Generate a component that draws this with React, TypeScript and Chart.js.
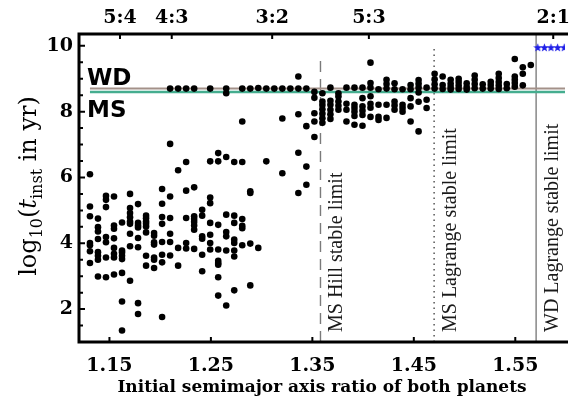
import React, { useEffect, useRef } from 'react';
import { Chart, registerables } from 'chart.js';
Chart.register(...registerables);

// Simulation grid: initial semimajor axis ratio of each column of runs
const columnX = [
  1.1308, 1.1387, 1.1466, 1.1545, 1.1624, 1.1703, 1.1782, 1.1861, 1.1940, 1.2019,
  1.2098, 1.2177, 1.2256, 1.2335, 1.2414, 1.2493, 1.2572, 1.2651, 1.2730, 1.2809,
  1.2888, 1.2967, 1.3046, 1.3125, 1.3204, 1.3283, 1.3362, 1.3441, 1.3520, 1.3599,
  1.3678, 1.3757, 1.3836, 1.3915, 1.3994, 1.4073, 1.4152, 1.4231, 1.4310, 1.4389,
  1.4468, 1.4547, 1.4626, 1.4705, 1.4784, 1.4863, 1.4942, 1.5021, 1.5100, 1.5179,
  1.5258, 1.5337, 1.5416, 1.5495, 1.5574, 1.5653,
];

// log10(t_inst) values of the runs in each column
const columnY: number[][] = [
  [6.10, 5.12, 4.82, 4.01, 3.94, 3.76, 3.40],
  [4.75, 4.49, 4.36, 4.13, 3.73, 3.62, 3.50, 2.99],
  [5.44, 5.32, 5.10, 4.19, 4.03, 3.57, 2.97],
  [5.42, 4.54, 4.44, 4.15, 3.86, 3.68, 3.57, 3.05],
  [4.63, 3.78, 3.72, 3.62, 3.52, 3.10, 2.23, 1.35],
  [5.50, 5.07, 4.92, 4.79, 4.66, 4.59, 4.29, 3.91, 2.86],
  [5.19, 4.62, 4.54, 4.48, 4.16, 3.88, 2.18, 1.85],
  [4.84, 4.76, 4.66, 4.59, 4.51, 4.33, 3.62, 3.32],
  [4.31, 4.23, 4.03, 3.96, 3.57, 3.50, 3.25],
  [5.65, 5.20, 4.80, 4.59, 4.04, 3.65, 3.42, 1.76],
  [8.70, 7.02, 5.42, 4.77, 4.29, 4.04, 3.63],
  [8.70, 6.22, 3.86, 3.32],
  [8.70, 6.47, 5.60, 4.77, 4.01, 3.84],
  [8.70, 5.70, 4.82, 4.74, 4.65, 4.54, 4.41, 3.83],
  [5.02, 4.84, 4.21, 4.14, 3.65, 3.15],
  [8.70, 6.49, 5.39, 5.22, 4.62, 4.26, 4.01, 3.81],
  [6.74, 6.49, 4.56, 3.81, 3.47, 3.40, 3.35, 2.97, 2.41],
  [8.70, 8.56, 6.62, 4.87, 4.34, 4.21, 3.78, 2.11],
  [6.47, 4.84, 4.62, 4.11, 4.01, 3.78, 3.60, 2.57],
  [8.70, 7.70, 6.47, 4.74, 4.53, 4.46, 3.94],
  [8.70, 5.58, 5.53, 3.99, 2.72],
  [8.72, 3.86],
  [8.70, 6.49],
  [8.70],
  [8.70, 7.79, 6.13],
  [8.70],
  [9.07, 8.70, 7.92, 6.75, 5.53],
  [8.70, 7.56, 6.33, 5.78],
  [8.60, 8.42, 7.95, 7.70, 7.23],
  [8.56, 8.31, 8.20, 8.07, 7.94, 7.80, 7.66],
  [8.73, 8.33, 8.21, 8.06, 7.92, 7.78],
  [8.56, 8.46, 8.31, 8.18, 8.06],
  [8.73, 8.24, 8.06, 7.70],
  [8.73, 8.21, 8.11, 8.00, 7.87, 7.60],
  [8.73, 8.41, 8.16, 8.03, 7.90, 7.57],
  [9.49, 8.87, 8.73, 8.47, 8.24, 8.12, 7.84],
  [8.68, 8.21, 7.84, 7.75],
  [8.97, 8.84, 8.70, 8.21, 7.81],
  [8.86, 8.68, 8.31, 8.19, 8.06],
  [8.68, 8.21, 8.11, 8.00],
  [8.81, 8.68, 8.41, 8.16, 7.70],
  [8.96, 8.85, 8.73, 8.58, 8.30, 7.40],
  [8.73, 8.36, 8.11],
  [9.15, 8.98, 8.83, 8.70],
  [9.07, 8.81, 8.69],
  [8.97, 8.85, 8.75, 8.67],
  [9.00, 8.90, 8.79, 8.69],
  [8.86, 8.75, 8.67],
  [9.10, 8.97, 8.84, 8.71],
  [8.83, 8.70],
  [8.91, 8.81, 8.70],
  [9.15, 9.02, 8.90, 8.79, 8.69],
  [8.84, 8.71],
  [9.60, 9.07, 8.97, 8.87, 8.76],
  [9.35, 9.15, 8.80],
  [9.42],
];

// stable runs (blue stars)
const starX = [1.5722, 1.5787, 1.5852, 1.5917, 1.5982];
const starY = [9.95, 9.95, 9.95, 9.95, 9.95];

const xTicks = [1.15, 1.25, 1.35, 1.45, 1.55];
const yMajorTicks = [2, 4, 6, 8, 10];
const yMinorTicks = [1, 1.5, 2.5, 3, 3.5, 4.5, 5, 5.5, 6.5, 7, 7.5, 8.5, 9, 9.5, 10];
const resonanceLabels = ['5:4', '4:3', '3:2', '5:3', '2:1'];
const resonanceX = [1.1604, 1.2114, 1.3104, 1.4057, 1.5874];

const wdLevel = 8.70;
const msLevel = 8.60;
const levelStartX = 1.1308;

const limitLabels = ['MS Hill stable limit', 'MS Lagrange stable limit', 'WD Lagrange stable limit'];
const limitX = [1.358, 1.470, 1.5705];
const limitTop = [9.6, 10.0, 10.4];

const X_MIN = 1.12;
const X_MAX = 1.599;
const Y_MIN = 1;
const Y_MAX = 10.36;

const SERIF = '"DejaVu Serif", serif';

function makeStar(): HTMLCanvasElement {
  const c = document.createElement('canvas');
  c.width = 9;
  c.height = 9;
  const g = c.getContext('2d')!;
  g.fillStyle = '#1f1fe8';
  g.beginPath();
  const cx = 4.5, cy = 4.8, R = 4.5, r = 1.9;
  for (let i = 0; i < 10; i++) {
    const ang = -Math.PI / 2 + (i * Math.PI) / 5;
    const rad = i % 2 === 0 ? R : r;
    const px = cx + rad * Math.cos(ang);
    const py = cy + rad * Math.sin(ang);
    if (i === 0) g.moveTo(px, py); else g.lineTo(px, py);
  }
  g.closePath();
  g.fill();
  return c;
}

const decorPlugin = {
  id: 'decor',
  beforeDatasetsDraw(chart: any) {
    const { ctx, chartArea: a, scales } = chart;
    const x = scales.x;
    // vertical limit labels
    ctx.save();
    ctx.fillStyle = '#1a1a1a';
    ctx.font = '20px "Liberation Serif", serif';
    ctx.textAlign = 'left';
    ctx.textBaseline = 'alphabetic';
    limitLabels.forEach((t, i) => {
      const px = x.getPixelForValue(limitX[i]);
      ctx.save();
      ctx.translate(px + 22, a.bottom - 10);
      ctx.rotate(-Math.PI / 2);
      ctx.fillText(t, 0, 0);
      ctx.restore();
    });
    ctx.restore();
  },
  afterDraw(chart: any) {
    const { ctx, chartArea: a, scales } = chart;
    const x = scales.x;
    const y = scales.y;
    ctx.save();
    // frame
    ctx.strokeStyle = '#000';
    ctx.lineWidth = 3;
    ctx.beginPath();
    ctx.moveTo(a.right + 3, a.top);
    ctx.lineTo(a.left, a.top);
    ctx.lineTo(a.left, a.bottom);
    ctx.lineTo(a.right + 3, a.bottom);
    ctx.stroke();
    // inward ticks
    ctx.lineWidth = 2;
    ctx.beginPath();
    yMajorTicks.forEach((v) => {
      const py = y.getPixelForValue(v);
      ctx.moveTo(a.left, py);
      ctx.lineTo(a.left + 6, py);
    });
    yMinorTicks.forEach((v) => {
      const py = y.getPixelForValue(v);
      ctx.moveTo(a.left, py);
      ctx.lineTo(a.left + 4, py);
    });
    xTicks.forEach((v) => {
      const px = x.getPixelForValue(v);
      ctx.moveTo(px, a.bottom);
      ctx.lineTo(px, a.bottom - 5);
    });
    resonanceX.forEach((v) => {
      const px = x.getPixelForValue(v);
      ctx.moveTo(px, a.top);
      ctx.lineTo(px, a.top + 5);
    });
    ctx.stroke();
    // resonance labels on top
    ctx.fillStyle = '#000';
    ctx.font = 'bold 19px ' + SERIF;
    ctx.textAlign = 'center';
    ctx.textBaseline = 'middle';
    resonanceLabels.forEach((t, i) => {
      ctx.fillText(t, x.getPixelForValue(resonanceX[i]), a.top - 16);
    });
    // WD / MS labels
    ctx.font = 'bold 23px "DejaVu Sans", sans-serif';
    ctx.textAlign = 'left';
    ctx.textBaseline = 'alphabetic';
    ctx.fillText('WD', a.left + 8, y.getPixelForValue(wdLevel) - 4);
    ctx.fillText('MS', a.left + 8, y.getPixelForValue(msLevel) + 25);
    // y axis title with subscripts
    const segs = [
      { t: 'log', f: '24px ' + SERIF, dy: 0 },
      { t: '10', f: '16px ' + SERIF, dy: 6 },
      { t: '(', f: '24px ' + SERIF, dy: 0 },
      { t: 't', f: 'italic 24px ' + SERIF, dy: 0 },
      { t: 'inst', f: '16px ' + SERIF, dy: 6 },
      { t: ' in yr)', f: '24px ' + SERIF, dy: 0 },
    ];
    let total = 0;
    const widths = segs.map((s) => {
      ctx.font = s.f;
      const w = ctx.measureText(s.t).width;
      total += w;
      return w;
    });
    ctx.save();
    ctx.translate(36, 186);
    ctx.rotate(-Math.PI / 2);
    let cx = -total / 2;
    segs.forEach((s, i) => {
      ctx.font = s.f;
      ctx.fillText(s.t, cx, s.dy);
      cx += widths[i];
    });
    ctx.restore();
    ctx.restore();
  },
};

export default function App() {
  const ref = useRef<HTMLCanvasElement | null>(null);
  useEffect(() => {
    document.body.style.margin = '0';
    const canvas = ref.current!;
    const star = makeStar();
    const dots: { x: number; y: number }[] = [];
    columnY.forEach((ys, k) => ys.forEach((v) => dots.push({ x: columnX[k], y: v })));
    const stars = starX.map((v, i) => ({ x: v, y: starY[i] }));
    const limitDatasets = limitX.map((v, i) => ({
      type: 'line' as const,
      data: [{ x: v, y: Y_MIN }, { x: v, y: limitTop[i] }],
      borderColor: i === 0 ? '#7a7a7a' : i === 1 ? '#555' : '#4a4a4a',
      borderWidth: i === 0 ? 1.4 : i === 1 ? 1.5 : 1,
      borderDash: i === 0 ? [11, 7] : i === 1 ? [1.5, 4] : [],
      pointRadius: 0,
      showLine: true,
      order: 3,
    }));
    const chart = new Chart(canvas, {
      type: 'scatter',
      data: {
        datasets: [
          {
            data: dots,
            backgroundColor: '#000',
            borderWidth: 0,
            pointRadius: 3.3,
            order: 0,
          },
          {
            data: stars,
            pointStyle: star as any,
            backgroundColor: '#1f1fe8',
            order: 0,
          },
          {
            type: 'line',
            data: [{ x: levelStartX, y: wdLevel }, { x: X_MAX, y: wdLevel }],
            borderColor: '#a39189',
            borderWidth: 2,
            pointRadius: 0,
            showLine: true,
            order: 2,
          },
          {
            type: 'line',
            data: [{ x: levelStartX, y: msLevel }, { x: X_MAX, y: msLevel }],
            borderColor: '#45ad8f',
            borderWidth: 2.5,
            pointRadius: 0,
            showLine: true,
            order: 1,
          },
          ...limitDatasets,
        ] as any,
      },
      options: {
        responsive: false,
        animation: false,
        devicePixelRatio: 1,
        events: [],
        layout: { padding: { top: 34, right: 0, left: 0, bottom: 0 } },
        plugins: { legend: { display: false }, tooltip: { enabled: false } },
        scales: {
          x: {
            type: 'linear',
            min: X_MIN,
            max: X_MAX,
            grid: { display: false, drawTicks: false },
            border: { display: false },
            afterBuildTicks: (s: any) => {
              s.ticks = xTicks.map((v) => ({ value: v }));
            },
            afterFit: (s: any) => {
              s.height = 63;
            },
            ticks: {
              autoSkip: false,
              maxRotation: 0,
              padding: 13,
              color: '#000',
              font: { family: SERIF, size: 19, weight: 'bold' },
              callback: (v: any) => Number(v).toFixed(2),
            },
            title: {
              display: true,
              text: 'Initial semimajor axis ratio of both planets',
              color: '#000',
              font: { family: SERIF, size: 17, weight: 'bold' },
              padding: { top: 2, bottom: 7 },
            },
          },
          y: {
            type: 'linear',
            min: Y_MIN,
            max: Y_MAX,
            grid: { display: false, drawTicks: false },
            border: { display: false },
            afterBuildTicks: (s: any) => {
              s.ticks = yMajorTicks.map((v) => ({ value: v }));
            },
            afterFit: (s: any) => {
              s.width = 79;
            },
            ticks: {
              autoSkip: false,
              padding: 6,
              color: '#000',
              font: { family: SERIF, size: 19, weight: 'bold' },
            },
          },
        },
      } as any,
      plugins: [decorPlugin],
    });
    return () => chart.destroy();
  }, []);
  return (
    <div style={{ width: 570, height: 405, position: 'relative', overflow: 'hidden' }}>
      <canvas ref={ref} width={570} height={405} style={{ display: 'block' }} />
    </div>
  );
}
